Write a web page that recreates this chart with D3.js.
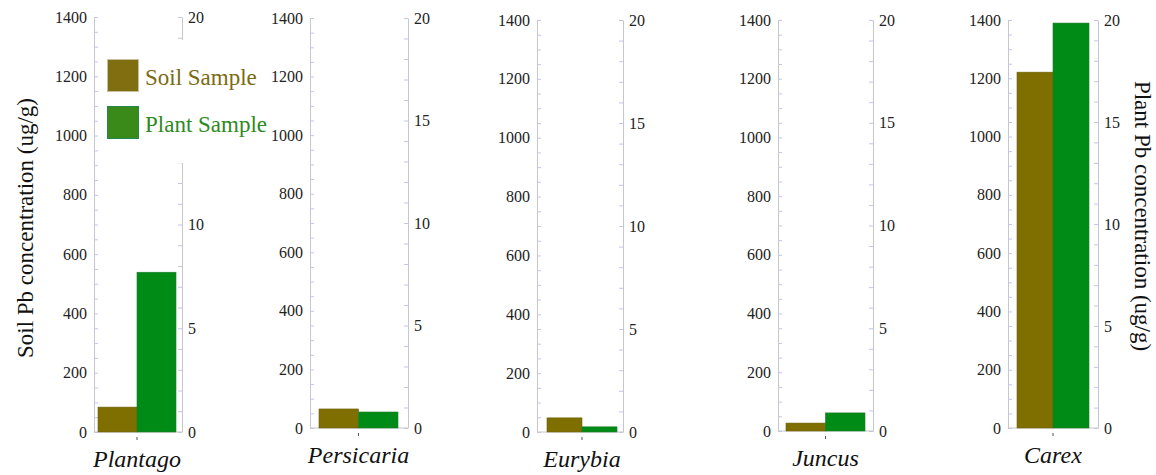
<!DOCTYPE html>
<html>
<head>
<meta charset="utf-8">
<script src="https://cdn.jsdelivr.net/npm/d3@7"></script>
<style>
  body { margin: 0; background: #fff; }
  svg { display: block; }
  svg text { font-family: "Times New Roman", "Liberation Serif", Times, "DejaVu Serif", serif; }
  .axis path { stroke: #c6c6cc; }
  .axis line { stroke: #c4c4ec; }
  .axis text { fill: #222; font-size: 16px; }
</style>
</head>
<body>
<svg></svg>
<script>
var width = 1156, height = 475;
var serif = '"Times New Roman", "Liberation Serif", Times, serif';

// data
var categories = ['Plantago', 'Persicaria', 'Eurybia', 'Juncus', 'Carex'];
var soilPb = [84, 65, 48, 27, 1221];          // ug/g, left axis
var plantPb = [7.7, 0.78, 0.25, 0.88, 19.85]; // ug/g, right axis
var soilTicks = d3.range(0, 1401, 50);
var plantTicks = d3.range(0, 21, 1);
var seriesNames = ['Soil Sample', 'Plant Sample'];

// panel frames (left axis x, right axis x, top, bottom, bar start, bar end)
var frames = [
  {l: 94,   r: 182,  t: 17, b: 432, bl: 98,   br: 176},
  {l: 310,  r: 408,  t: 18, b: 428, bl: 319,  br: 398},
  {l: 537,  r: 623,  t: 20, b: 432, bl: 547,  br: 617},
  {l: 778,  r: 873,  t: 20, b: 431, bl: 786,  br: 865},
  {l: 1008, r: 1098, t: 20, b: 428, bl: 1017, br: 1089}
];

var soilColor = '#7f6f00', plantColor = '#008a16';

var svg = d3.select('svg').attr('width', width).attr('height', height);

categories.forEach(function(name, i) {
  var f = frames[i];
  var g = svg.append('g');
  var ySoil = d3.scaleLinear().domain([0, 1400]).range([f.b, f.t]);
  var yPlant = d3.scaleLinear().domain([0, 20]).range([f.b, f.t]);
  var x = d3.scaleBand().domain(seriesNames).range([f.bl, f.br]);

  g.append('g')
    .attr('class', 'axis')
    .attr('font-family', serif)
    .attr('transform', 'translate(' + f.l + ',0)')
    .call(d3.axisLeft(ySoil).tickValues(soilTicks).tickSize(-4).tickSizeOuter(0)
      .tickPadding(7)
      .tickFormat(function(d) { return d % 200 === 0 ? d : ''; }));

  // the legend hides the "15" of the first panel
  g.append('g')
    .attr('class', 'axis')
    .attr('font-family', serif)
    .attr('transform', 'translate(' + f.r + ',0)')
    .call(d3.axisRight(yPlant).tickValues(plantTicks).tickSize(-4).tickSizeOuter(0)
      .tickPadding(6)
      .tickFormat(function(d) {
        if (i === 0 && d === 15) return '';
        return d % 5 === 0 ? d : '';
      }));

  // baseline
  g.append('line')
    .attr('x1', f.l).attr('x2', f.r)
    .attr('y1', f.b).attr('y2', f.b)
    .attr('stroke', '#c6c6cc');

  g.append('rect')
    .attr('x', x('Soil Sample')).attr('width', x.bandwidth())
    .attr('y', ySoil(soilPb[i])).attr('height', f.b - ySoil(soilPb[i]))
    .attr('fill', soilColor).attr('stroke', '#6e6010').attr('stroke-width', 0.6);

  g.append('rect')
    .attr('x', x('Plant Sample')).attr('width', x.bandwidth())
    .attr('y', yPlant(plantPb[i])).attr('height', f.b - yPlant(plantPb[i]))
    .attr('fill', plantColor).attr('stroke', '#1f7a2a').attr('stroke-width', 0.6);

  var cx = (f.bl + f.br) / 2;
  g.append('line')
    .attr('x1', cx).attr('x2', cx)
    .attr('y1', f.b + 5).attr('y2', f.b + 8)
    .attr('stroke', '#555');

  g.append('text')
    .attr('x', cx).attr('y', f.b + 35)
    .attr('text-anchor', 'middle')
    .attr('font-style', 'italic')
    .attr('font-size', 24)
    .attr('fill', '#111')
    .text(name);
});

// legend sits on a white box over the first panel
var legend = svg.append('g');
legend.append('rect')
  .attr('x', 99).attr('y', 40).attr('width', 173).attr('height', 123)
  .attr('fill', '#fff');
var legendItems = [
  {name: seriesNames[0], fill: '#7f6f10', stroke: '#c8c0a0', text: '#7a6a10', y: 59},
  {name: seriesNames[1], fill: '#3a8a1a', stroke: '#228850', text: '#2e8a1e', y: 106}
];
legendItems.forEach(function(d) {
  legend.append('rect')
    .attr('x', 107.5).attr('y', d.y + 0.5).attr('width', 31).attr('height', 32)
    .attr('fill', d.fill).attr('stroke', d.stroke).attr('stroke-width', 1);
  legend.append('text')
    .attr('x', 145).attr('y', d.y + 26)
    .attr('font-size', 23)
    .attr('fill', d.text)
    .text(d.name);
});

svg.append('text')
  .attr('transform', 'translate(33,228) rotate(-90)')
  .attr('text-anchor', 'middle')
  .attr('font-size', 23)
  .attr('fill', '#111')
  .text('Soil Pb concentration (ug/g)');

svg.append('text')
  .attr('transform', 'translate(1135,216) rotate(90)')
  .attr('text-anchor', 'middle')
  .attr('font-size', 23)
  .attr('fill', '#111')
  .text('Plant Pb concentration (ug/g)');
</script>
</body>
</html>
